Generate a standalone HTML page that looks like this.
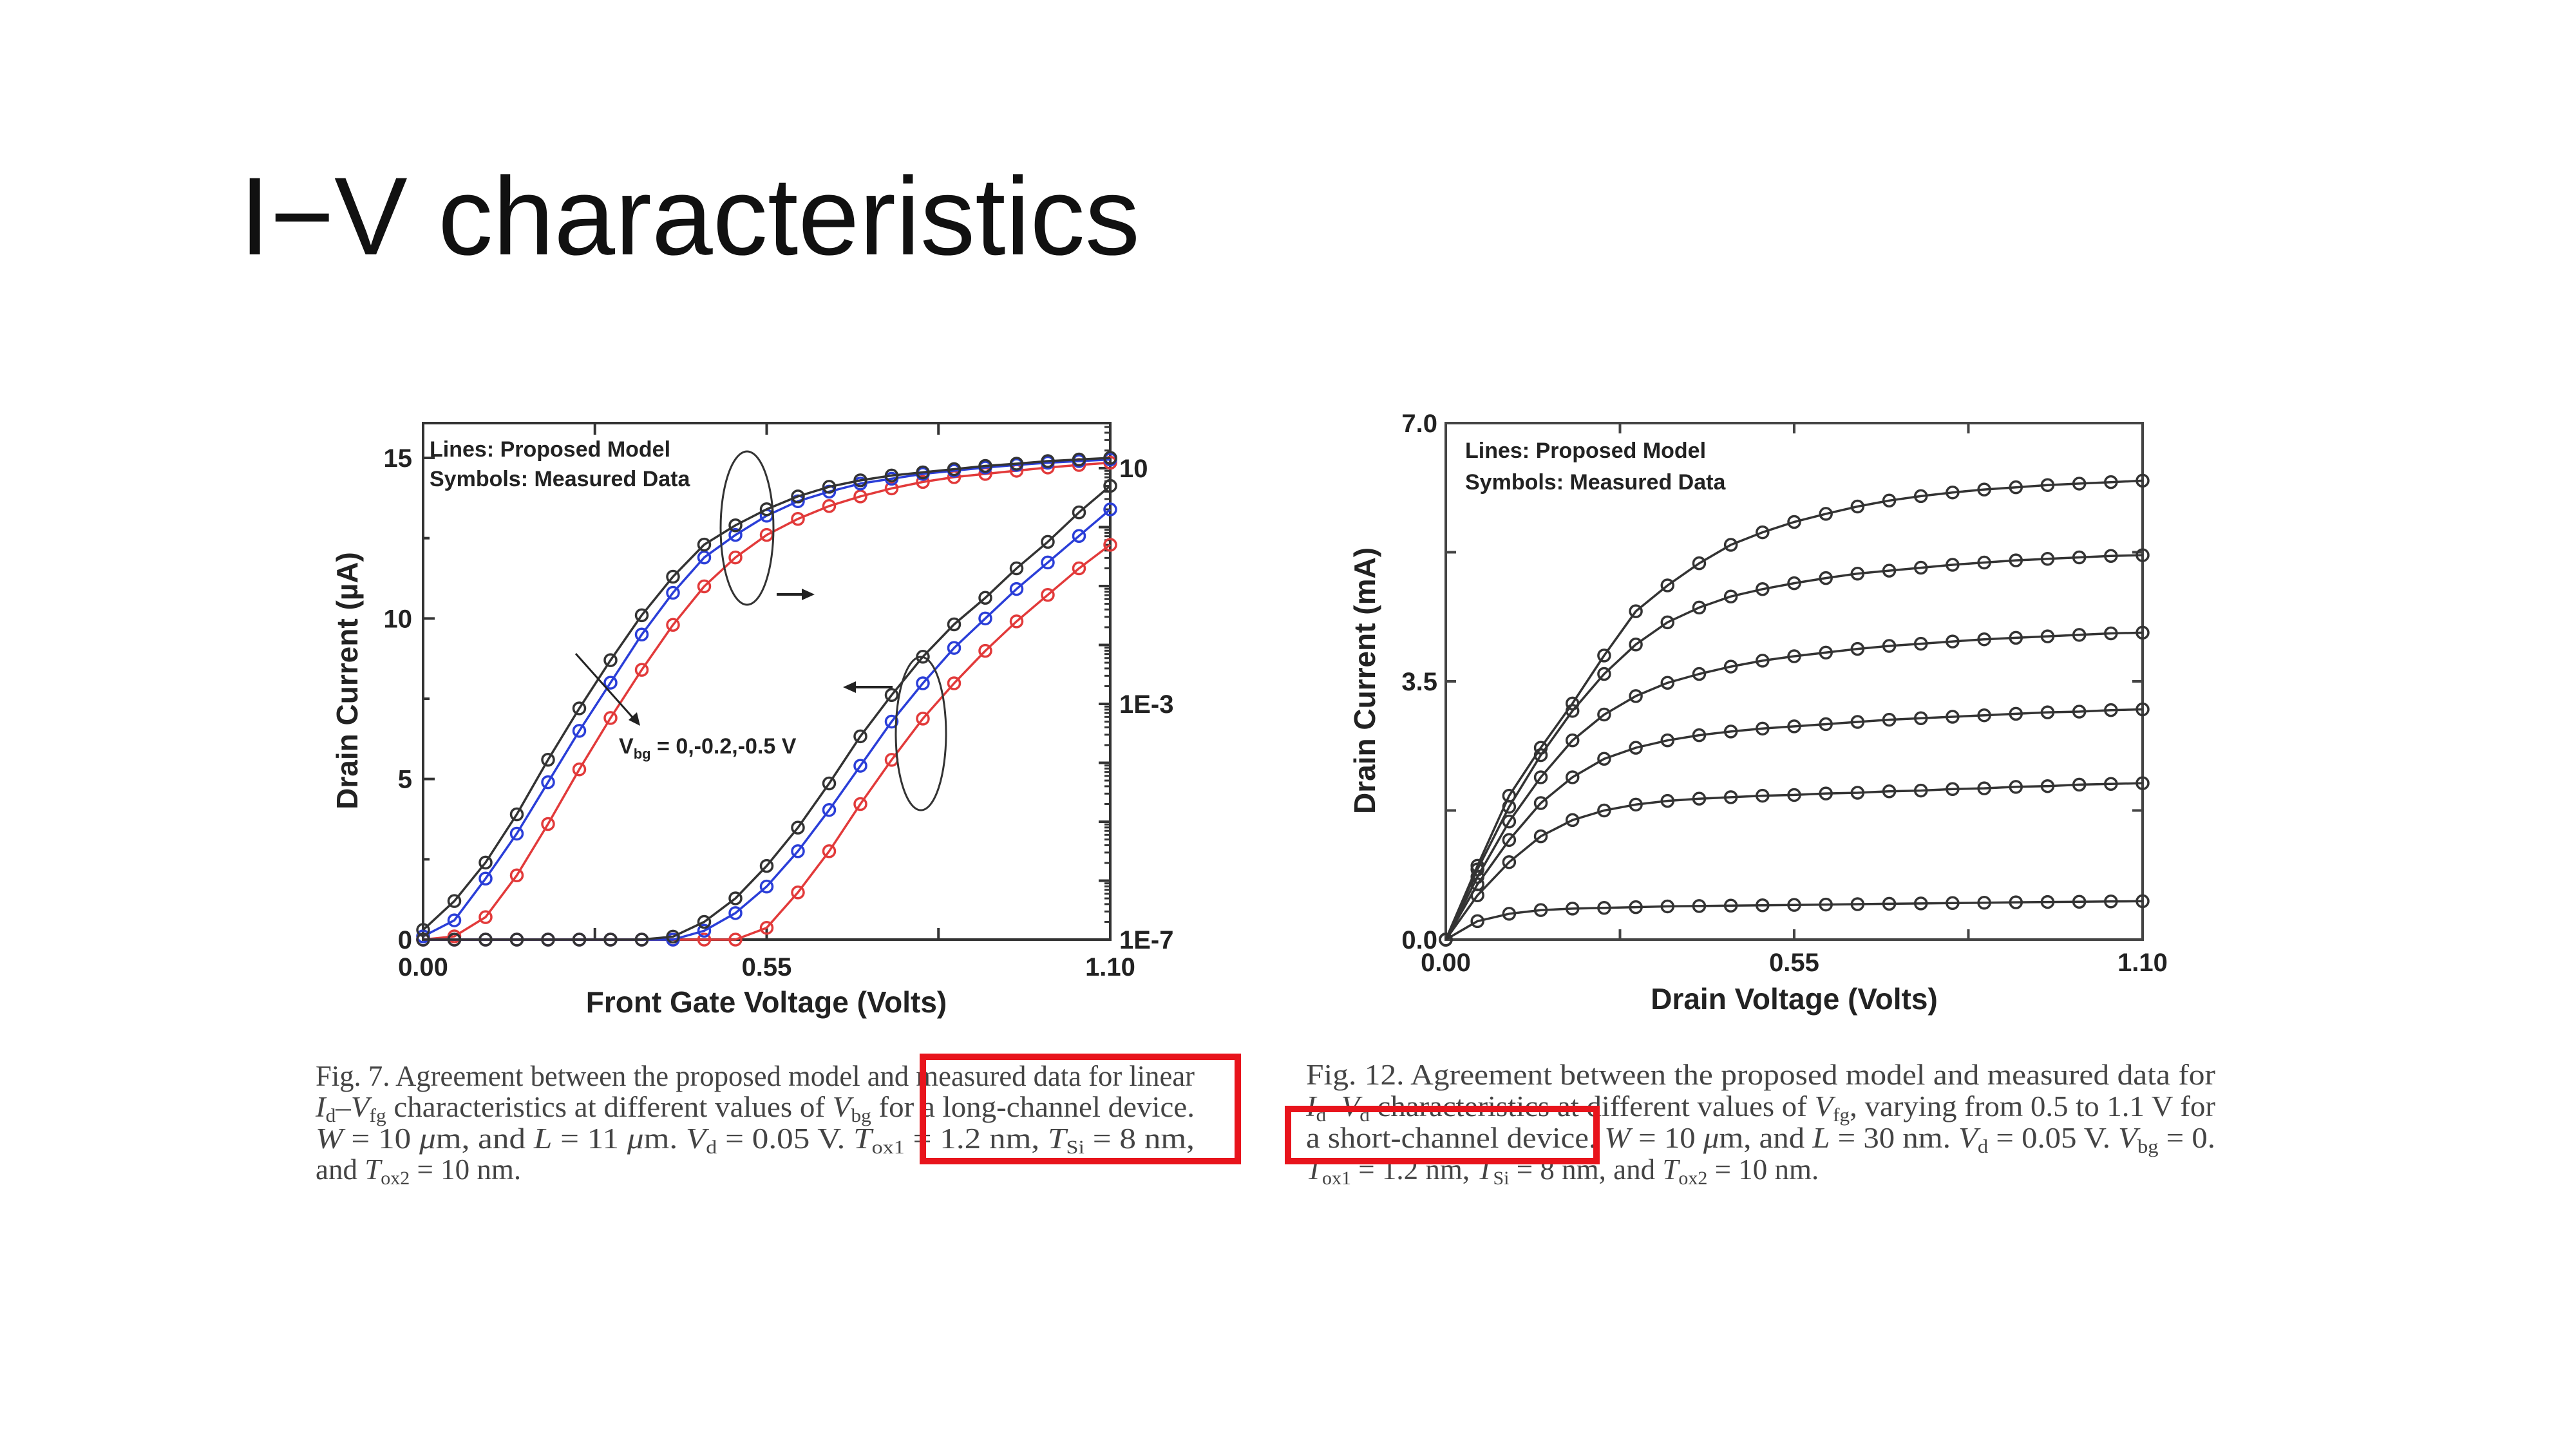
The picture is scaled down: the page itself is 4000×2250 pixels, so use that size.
<!DOCTYPE html>
<html><head><meta charset="utf-8"><style>
html,body{margin:0;padding:0;background:#fff;}
svg{display:block;}
.tk{font-family:"Liberation Sans",sans-serif;font-weight:bold;font-size:40px;fill:#222;}
.at{font-family:"Liberation Sans",sans-serif;font-weight:bold;font-size:46px;fill:#222;}
.lg{font-family:"Liberation Sans",sans-serif;font-weight:bold;font-size:34px;fill:#222;}
.cap{font-family:"Liberation Serif",serif;font-size:45px;fill:#444;}
</style></head><body>
<svg id="root" width="4000" height="2250" viewBox="0 0 4000 2250" xmlns="http://www.w3.org/2000/svg">
<text x="372" y="395" font-family="'Liberation Sans','Noto Sans CJK KR',sans-serif" font-size="172" fill="#111" textLength="1398" lengthAdjust="spacingAndGlyphs">I−V characteristics</text>

<g id="left"></g>
<g id="right"></g>

<g>
<text class="cap" x="490" y="1686" textLength="1365" lengthAdjust="spacingAndGlyphs">Fig. 7.   Agreement between the proposed model and measured data for linear</text>
<text class="cap" x="490" y="1734" textLength="1365" lengthAdjust="spacingAndGlyphs"><tspan font-style="italic">I</tspan><tspan font-size="30" dy="8">d</tspan><tspan dy="-8">–</tspan><tspan font-style="italic">V</tspan><tspan font-size="30" dy="8">fg</tspan><tspan dy="-8"> characteristics at different values of </tspan><tspan font-style="italic">V</tspan><tspan font-size="30" dy="8">bg</tspan><tspan dy="-8"> for a long-channel device.</tspan></text>
<text class="cap" x="490" y="1783" textLength="1365" lengthAdjust="spacingAndGlyphs"><tspan font-style="italic">W</tspan> = 10 <tspan font-style="italic">μ</tspan>m, and <tspan font-style="italic">L</tspan> = 11 <tspan font-style="italic">μ</tspan>m. <tspan font-style="italic">V</tspan><tspan font-size="30" dy="8">d</tspan><tspan dy="-8"> = 0.05 V. </tspan><tspan font-style="italic">T</tspan><tspan font-size="30" dy="8">ox1</tspan><tspan dy="-8"> = 1.2 nm, </tspan><tspan font-style="italic">T</tspan><tspan font-size="30" dy="8">Si</tspan><tspan dy="-8"> = 8 nm,</tspan></text>
<text class="cap" x="490" y="1831">and <tspan font-style="italic">T</tspan><tspan font-size="30" dy="8">ox2</tspan><tspan dy="-8"> = 10 nm.</tspan></text>
</g>
<g>
<text class="cap" x="2028" y="1684" textLength="1412" lengthAdjust="spacingAndGlyphs">Fig. 12.   Agreement between the proposed model and measured data for</text>
<text class="cap" x="2028" y="1733" textLength="1412" lengthAdjust="spacingAndGlyphs"><tspan font-style="italic">I</tspan><tspan font-size="30" dy="8">d</tspan><tspan dy="-8">–</tspan><tspan font-style="italic">V</tspan><tspan font-size="30" dy="8">d</tspan><tspan dy="-8"> characteristics at different values of </tspan><tspan font-style="italic">V</tspan><tspan font-size="30" dy="8">fg</tspan><tspan dy="-8">, varying from 0.5 to 1.1 V for</tspan></text>
<text class="cap" x="2028" y="1782" textLength="1412" lengthAdjust="spacingAndGlyphs">a short-channel device. <tspan font-style="italic">W</tspan> = 10 <tspan font-style="italic">μ</tspan>m, and <tspan font-style="italic">L</tspan> = 30 nm. <tspan font-style="italic">V</tspan><tspan font-size="30" dy="8">d</tspan><tspan dy="-8"> = 0.05 V. </tspan><tspan font-style="italic">V</tspan><tspan font-size="30" dy="8">bg</tspan><tspan dy="-8"> = 0.</tspan></text>
<text class="cap" x="2028" y="1831"><tspan font-style="italic">T</tspan><tspan font-size="30" dy="8">ox1</tspan><tspan dy="-8"> = 1.2 nm, </tspan><tspan font-style="italic">T</tspan><tspan font-size="30" dy="8">Si</tspan><tspan dy="-8"> = 8 nm, and </tspan><tspan font-style="italic">T</tspan><tspan font-size="30" dy="8">ox2</tspan><tspan dy="-8"> = 10 nm.</tspan></text>
</g>
<rect x="1433" y="1641" width="489" height="162" fill="none" stroke="#e8141c" stroke-width="10"/>
<rect x="2000" y="1722" width="479" height="81" fill="none" stroke="#e8141c" stroke-width="10"/>
</svg>
<script>
// ---- Left chart data (Id-Vg) ----
const vgValues = [0,0.05,0.1,0.15,0.2,0.25,0.3,0.35,0.4,0.45,0.5,0.55,0.6,0.65,0.7,0.75,0.8,0.85,0.9,0.95,1.0,1.05,1.1];
const linBlack = [0.3,1.2,2.4,3.9,5.6,7.2,8.7,10.1,11.3,12.3,12.9,13.4,13.8,14.1,14.3,14.45,14.55,14.65,14.75,14.82,14.9,14.95,15.0];
const linBlue  = [0.1,0.6,1.9,3.3,4.9,6.5,8.0,9.5,10.8,11.9,12.6,13.2,13.65,13.95,14.2,14.35,14.5,14.6,14.7,14.78,14.85,14.9,14.95];
const linRed   = [0,0.1,0.7,2.0,3.6,5.3,6.9,8.4,9.8,11.0,11.9,12.6,13.1,13.5,13.8,14.05,14.25,14.4,14.5,14.6,14.7,14.78,14.85];
const logBlack = [-7,-7,-7,-7,-7,-7,-7,-7,-6.95,-6.7,-6.3,-5.75,-5.1,-4.35,-3.55,-2.85,-2.2,-1.65,-1.2,-0.7,-0.25,0.25,0.7];
const logBlue  = [-7,-7,-7,-7,-7,-7,-7,-7,-7,-6.85,-6.55,-6.1,-5.5,-4.8,-4.05,-3.3,-2.65,-2.05,-1.55,-1.05,-0.6,-0.15,0.3];
const logRed   = [-7,-7,-7,-7,-7,-7,-7,-7,-7,-7,-7,-6.8,-6.2,-5.5,-4.7,-3.95,-3.25,-2.65,-2.1,-1.6,-1.15,-0.7,-0.3];
const leftXTicks = ["0.00","0.55","1.10"];
const leftYTicks = ["0","5","10","15"];
const leftLogTicks = ["10","1E-3","1E-7"];
// ---- Right chart data (Id-Vd) ----
const vdValues = [0,0.05,0.1,0.15,0.2,0.25,0.3,0.35,0.4,0.45,0.5,0.55,0.6,0.65,0.7,0.75,0.8,0.85,0.9,0.95,1.0,1.05,1.1];
const idVfg1 = [0,1.0,1.95,2.6,3.2,3.85,4.45,4.8,5.1,5.35,5.52,5.66,5.77,5.87,5.95,6.01,6.06,6.1,6.13,6.16,6.18,6.2,6.22];
const idVfg2 = [0,0.95,1.8,2.5,3.1,3.6,4.0,4.3,4.5,4.65,4.75,4.83,4.9,4.96,5.0,5.04,5.08,5.11,5.14,5.16,5.18,5.2,5.21];
const idVfg3 = [0,0.85,1.6,2.2,2.7,3.05,3.3,3.48,3.6,3.7,3.78,3.84,3.89,3.94,3.98,4.01,4.04,4.07,4.09,4.11,4.13,4.15,4.16];
const idVfg4 = [0,0.75,1.35,1.85,2.2,2.45,2.6,2.7,2.77,2.82,2.86,2.89,2.92,2.95,2.98,3.0,3.02,3.04,3.06,3.08,3.09,3.11,3.12];
const idVfg5 = [0,0.6,1.05,1.4,1.62,1.75,1.83,1.88,1.91,1.93,1.95,1.96,1.98,1.99,2.01,2.02,2.04,2.05,2.07,2.08,2.1,2.11,2.12];
const idVfg6 = [0,0.25,0.35,0.4,0.42,0.43,0.44,0.45,0.455,0.46,0.465,0.47,0.475,0.48,0.485,0.49,0.495,0.5,0.505,0.51,0.513,0.517,0.52];
const rightXTicks = ["0.00","0.55","1.10"];
const rightYTicks = ["0.0","3.5","7.0"];

const NS="http://www.w3.org/2000/svg";
function mk(parent,tag,attrs){const e=document.createElementNS(NS,tag);for(const k in attrs)e.setAttribute(k,attrs[k]);parent.appendChild(e);return e;}

// ===== LEFT =====
const L=document.getElementById('left');
const lx0=657,lx1=1724,ly0=1459,ly1=657;
const lxs=v=>lx0+(v/1.1)*(lx1-lx0);
const lysL=v=>1459-(v+7)*91.5;
function lyLin(v){return ly0+(711-ly0)*v/15;}
let frameL=mk(L,'rect',{x:lx0,y:ly1,width:lx1-lx0,height:ly0-ly1,fill:'none',stroke:'#333','stroke-width':4});


for(let i=0;i<=4;i++){const x=lxs(i*0.275);
 mk(L,'line',{x1:x,y1:ly0,x2:x,y2:ly0-18,stroke:'#333','stroke-width':4});
 mk(L,'line',{x1:x,y1:ly1,x2:x,y2:ly1+18,stroke:'#333','stroke-width':4});}
for(let i=0;i<=6;i++){const y=lyLin(i*2.5);mk(L,'line',{x1:lx0,y1:y,x2:lx0+(i%2==0?18:10),y2:y,stroke:'#333','stroke-width':4});}
for(let d=-7;d<=1;d++){const y=lysL(d);mk(L,'line',{x1:lx1,y1:y,x2:lx1-18,y2:y,stroke:'#333','stroke-width':4});
 for(let m=2;m<10;m++){const yy=lysL(d+Math.log10(m));if(yy>ly1)mk(L,'line',{x1:lx1,y1:yy,x2:lx1-9,y2:yy,stroke:'#333','stroke-width':3});}}
leftXTicks.forEach((t,i)=>{const e=mk(L,'text',{x:lxs(i*0.55),y:1515,'text-anchor':'middle',class:'tk'});e.textContent=t;
 
 });
leftYTicks.forEach((t,i)=>{const e=mk(L,'text',{x:640,y:lyLin(i*5)+14,'text-anchor':'end',class:'tk'});e.textContent=t;
 
 });
leftLogTicks.forEach((t,i)=>{const v=[1,-3,-7][i];const e=mk(L,'text',{x:1738,y:lysL(v)+14,class:'tk'});e.textContent=t;
 
 });
function series(g,xs,ys,xf,yf,col,name){
 let d='';xs.forEach((x,i)=>{d+=(i?'L':'M')+xf(x).toFixed(1)+','+yf(ys[i]).toFixed(1);});
 const p=mk(g,'path',{d:d,fill:'none',stroke:col,'stroke-width':3.5,'stroke-linejoin':'round'});
 
 
 xs.forEach((x,i)=>{const c=mk(g,'circle',{cx:xf(x),cy:yf(ys[i]),r:9,fill:'none',stroke:col,'stroke-width':3.5});
  
  });
}
series(L,vgValues,linRed,lxs,lyLin,'#e23a3a','lin-vbg-0.5');
series(L,vgValues,linBlue,lxs,lyLin,'#2a3ed8','lin-vbg-0.2');
series(L,vgValues,linBlack,lxs,lyLin,'#333','lin-vbg-0');
series(L,vgValues,logRed,lxs,lysL,'#e23a3a','log-vbg-0.5');
series(L,vgValues,logBlue,lxs,lysL,'#2a3ed8','log-vbg-0.2');
series(L,vgValues,logBlack,lxs,lysL,'#333','log-vbg-0');
function txt(g,x,y,cls,s,name,extra){const e=mk(g,'text',Object.assign({x:x,y:y,class:cls},extra||{}));e.textContent=s;
 
 return e;}
txt(L,1190,1572,'at','Front Gate Voltage (Volts)','x-axis-title',{'text-anchor':'middle'});
txt(L,555,1057,'at','Drain Current (µA)','y-axis-title',{'text-anchor':'middle',transform:'rotate(-90 555 1057)'});
txt(L,667,709,'lg','Lines: Proposed Model','legend-lines');
txt(L,667,755,'lg','Symbols: Measured Data','legend-symbols');
mk(L,'ellipse',{cx:1160,cy:820,rx:41,ry:119,fill:'none',stroke:'#333','stroke-width':3});
mk(L,'ellipse',{cx:1430,cy:1139,rx:39,ry:119,fill:'none',stroke:'#333','stroke-width':3});
mk(L,'line',{x1:1206,y1:923,x2:1250,y2:923,stroke:'#222','stroke-width':4});
mk(L,'path',{d:'M1265,923 L1245,914 L1245,932 Z',fill:'#222'});
mk(L,'line',{x1:1386,y1:1067,x2:1325,y2:1067,stroke:'#222','stroke-width':4});
mk(L,'path',{d:'M1309,1067 L1329,1058 L1329,1076 Z',fill:'#222'});
mk(L,'line',{x1:894,y1:1015,x2:985,y2:1117,stroke:'#222','stroke-width':3});
mk(L,'path',{d:'M994,1127 L976,1118 L989,1106 Z',fill:'#222'});
const vb=txt(L,961,1170,'lg','V','vbg-annotation');
vb.setAttribute('font-size','30');
const s1=mk(vb,'tspan',{'font-size':'22',dy:8});s1.textContent='bg';
const s2=mk(vb,'tspan',{dy:-8});s2.textContent=' = 0,-0.2,-0.5 V';

// ===== RIGHT =====
const R=document.getElementById('right');
const rx0=2245,rx1=3327,ry0=1459,ry1=657;
const rxs=v=>rx0+(v/1.1)*(rx1-rx0);
const rys=v=>ry0-(v/7)*(ry0-ry1);
let frameR=mk(R,'rect',{x:rx0,y:ry1,width:rx1-rx0,height:ry0-ry1,fill:'none',stroke:'#444','stroke-width':4});


for(let i=0;i<=4;i++){const x=rxs(i*0.275);
 mk(R,'line',{x1:x,y1:ry0,x2:x,y2:ry0-16,stroke:'#444','stroke-width':4});
 mk(R,'line',{x1:x,y1:ry1,x2:x,y2:ry1+16,stroke:'#444','stroke-width':4});}
for(let i=0;i<=4;i++){const y=rys(i*1.75);
 mk(R,'line',{x1:rx0,y1:y,x2:rx0+16,y2:y,stroke:'#444','stroke-width':4});
 mk(R,'line',{x1:rx1,y1:y,x2:rx1-16,y2:y,stroke:'#444','stroke-width':4});}
rightXTicks.forEach((t,i)=>{const e=mk(R,'text',{x:rxs(i*0.55),y:1508,'text-anchor':'middle',class:'tk'});e.textContent=t;
 
 });
rightYTicks.forEach((t,i)=>{const e=mk(R,'text',{x:2232,y:rys(i*3.5)+14,'text-anchor':'end',class:'tk'});e.textContent=t;
 
 });
[idVfg1,idVfg2,idVfg3,idVfg4,idVfg5,idVfg6].forEach((s,k)=>series(R,vdValues,s,rxs,rys,'#333','vfg-curve-'+(k+1)));
txt(R,2786,1567,'at','Drain Voltage (Volts)','x-axis-title',{'text-anchor':'middle'});
txt(R,2135,1057,'at','Drain Current (mA)','y-axis-title',{'text-anchor':'middle',transform:'rotate(-90 2135 1057)'});
txt(R,2275,711,'lg','Lines: Proposed Model','legend-lines');
txt(R,2275,760,'lg','Symbols: Measured Data','legend-symbols');
</script>
</body></html>
